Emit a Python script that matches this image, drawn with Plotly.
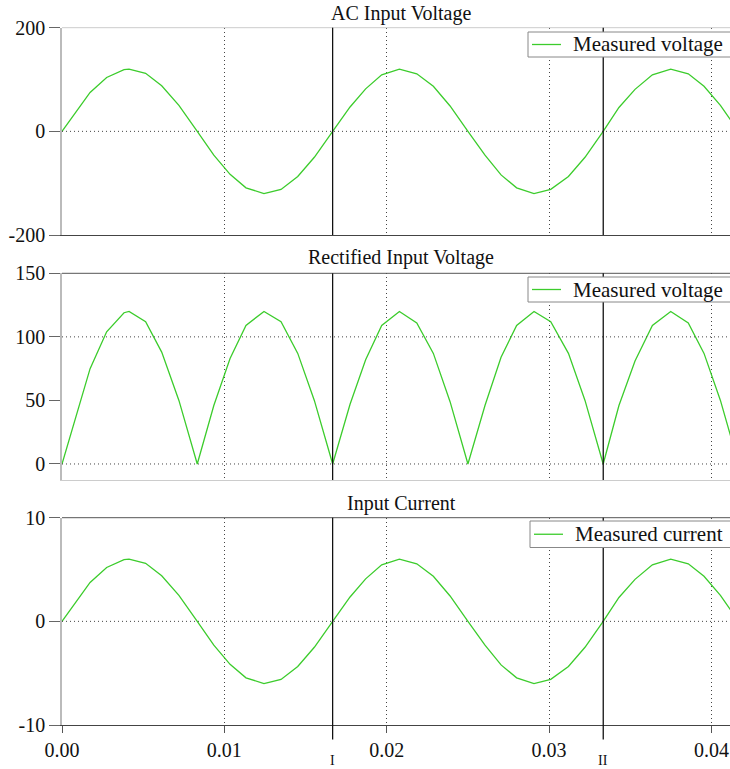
import plotly.graph_objects as go

# ---- data ----
time_s = [0.0, 0.00173, 0.00275, 0.00382, 0.00413, 0.00515, 0.00614, 0.00720, 0.00833,
          0.00935, 0.01035, 0.01133, 0.01244, 0.01349, 0.01452, 0.01554, 0.01667,
          0.01774, 0.01870, 0.01969, 0.02078, 0.02185, 0.02287, 0.02390, 0.02500,
          0.02605, 0.02704, 0.02800, 0.02907, 0.03010, 0.03119, 0.03221, 0.03333,
          0.03430, 0.03529, 0.03636, 0.03749, 0.03857, 0.03954, 0.04055, 0.04167]

ac_voltage = [0, 75, 104, 119, 120, 112, 88, 50, 0,
              -46, -83, -109, -120, -112, -87, -50, 0,
              47, 82, 109, 120, 111, 87, 49, 0,
              -46, -84, -109, -120, -112, -87, -50, 0,
              46, 81, 109, 120, 111, 87, 50, 0]

rectified_voltage = [0, 75, 104, 119, 120, 112, 88, 50, 0,
                     46, 83, 109, 120, 112, 87, 50, 0,
                     47, 82, 109, 120, 111, 87, 49, 0,
                     46, 84, 109, 120, 112, 87, 50, 0,
                     46, 81, 109, 120, 111, 87, 50, 0]

input_current = [0, 3.75, 5.2, 5.95, 6.0, 5.6, 4.4, 2.5, 0,
                 -2.3, -4.15, -5.45, -6.0, -5.6, -4.35, -2.5, 0,
                 2.35, 4.1, 5.45, 6.0, 5.55, 4.35, 2.45, 0,
                 -2.3, -4.2, -5.45, -6.0, -5.6, -4.35, -2.5, 0,
                 2.3, 4.05, 5.45, 6.0, 5.55, 4.35, 2.5, 0]

panel_titles = ["AC Input Voltage", "Rectified Input Voltage", "Input Current"]
legend_names = ["Measured voltage", "Measured voltage", "Measured current"]
y_ranges = [[-200, 200], [-12.6, 150], [-10, 10]]
y_ticks = [[-200, 0, 200], [0, 50, 100, 150], [-10, 0, 10]]
y_tick_labels = [["-200", "0", "200"], ["0", "50", "100", "150"], ["-10", "0", "10"]]
y_ref_lines = [[0], [0, 100], [0]]
x_ticks = [0.0, 0.01, 0.02, 0.03, 0.04]
x_tick_labels = ["0.00", "0.01", "0.02", "0.03", "0.04"]
x_range = [0, 0.04114]
cursor_times = [1 / 60, 2 / 60]
cursor_labels = ["I", "II"]

# ---- layout geometry (pixels in a 730x769 figure) ----
W, H = 730, 769
ML = 62
FONT = "Liberation Serif"
GREEN = "#3ccc2c"
DOT = "1px,3px"
panel_px = [(27.7, 235), (273.3, 480), (517.7, 725)]   # (top, bottom)
title_px = [13, 257, 503]
legend_box_px = [(528, 32, 57), (528, 277, 302), (530, 521, 547.5)]  # (left, top, bottom)

def py(p):
    return (H - p) / H

def px(p):
    return (p - ML) / (W - ML)

series = [ac_voltage, rectified_voltage, input_current]

fig = go.Figure()
shapes = []
annotations = []
layout = dict(
    width=W, height=H,
    margin=dict(l=ML, r=0, t=0, b=0),
    paper_bgcolor="white", plot_bgcolor="white",
    font=dict(family=FONT, size=20, color="#111"),
    showlegend=False,
)

for i in range(3):
    n = "" if i == 0 else str(i + 1)
    xa, ya = "x" + n, "y" + n
    fig.add_trace(go.Scatter(
        x=time_s, y=series[i], mode="lines", name=legend_names[i],
        line=dict(color=GREEN, width=1.3), xaxis=xa, yaxis=ya,
    ))
    top, bot = panel_px[i]
    layout["xaxis" + n] = dict(
        domain=[0, 1], anchor=ya, range=x_range,
        tickvals=x_ticks, ticktext=x_tick_labels,
        showticklabels=(i == 2),
        ticks="outside" if i == 2 else "", ticklen=7, tickcolor="#555",
        showgrid=True, griddash=DOT, gridcolor="#444", gridwidth=1,
        showline=True, linecolor=["#444", "#cccccc", "#444"][i], linewidth=1,
        zeroline=False, automargin=False,
        tickfont=dict(family=FONT, size=20, color="#111"),
        matches=None if i == 0 else "x",
    )
    layout["yaxis" + n] = dict(
        domain=[py(bot), py(top)], anchor=xa, range=y_ranges[i],
        tickvals=y_ticks[i], ticktext=y_tick_labels[i],
        ticks="outside", ticklen=11, tickcolor="#666",
        showgrid=False, zeroline=False,
        showline=True, linecolor="#bbbbbb", linewidth=1.5,
        automargin=False,
        tickfont=dict(family=FONT, size=20, color="#111"),
    )
    # top border
    shapes.append(dict(type="line", xref=xa + " domain", yref=ya + " domain",
                       x0=0, x1=1, y0=1, y1=1,
                       line=dict(color=["#cccccc", "#555", "#555"][i], width=1)))
    # horizontal dotted reference lines
    for yv in y_ref_lines[i]:
        shapes.append(dict(type="line", xref=xa + " domain", yref=ya,
                           x0=0, x1=1, y0=yv, y1=yv,
                           line=dict(color="#444", width=1, dash=DOT)))
    # cursor lines
    for ct in cursor_times:
        shapes.append(dict(type="line", xref=xa, yref=ya + " domain",
                           x0=ct, x1=ct, y0=(-0.07 if i == 2 else 0), y1=1,
                           line=dict(color="#111", width=1.3)))
    # panel title
    annotations.append(dict(text=panel_titles[i], xref="paper", yref="paper",
                            x=px(401), y=py(title_px[i]), xanchor="center", yanchor="middle",
                            showarrow=False, font=dict(family=FONT, size=20, color="#111")))
    # legend box (compact, like the reference)
    lx, lt, lb = legend_box_px[i]
    shapes.append(dict(type="rect", xref="paper", yref="paper", layer="above",
                       x0=px(lx), x1=px(W + 20), y0=py(lb), y1=py(lt),
                       fillcolor="white", line=dict(color="#888", width=1)))
    ymid = py((lt + lb) / 2)
    shapes.append(dict(type="line", xref="paper", yref="paper", layer="above",
                       x0=px(lx + 4), x1=px(lx + 33), y0=ymid, y1=ymid,
                       line=dict(color=GREEN, width=1.3)))
    annotations.append(dict(text=legend_names[i], xref="paper", yref="paper",
                            x=px(lx + 43), y=ymid, xanchor="left", yanchor="middle",
                            showarrow=False, font=dict(family=FONT, size=21, color="#111")))

for ct, lab in zip(cursor_times, cursor_labels):
    annotations.append(dict(text=lab, xref="x3", yref="paper", x=ct, y=py(760),
                            xanchor="center", yanchor="middle", showarrow=False,
                            font=dict(family=FONT, size=14, color="#111")))

layout["shapes"] = shapes
layout["annotations"] = annotations
fig.update_layout(**layout)

fig.write_html(
    "out.html",
    config={"displayModeBar": False},
    post_script="document.body.style.margin='0';document.body.style.overflow='hidden';",
)
